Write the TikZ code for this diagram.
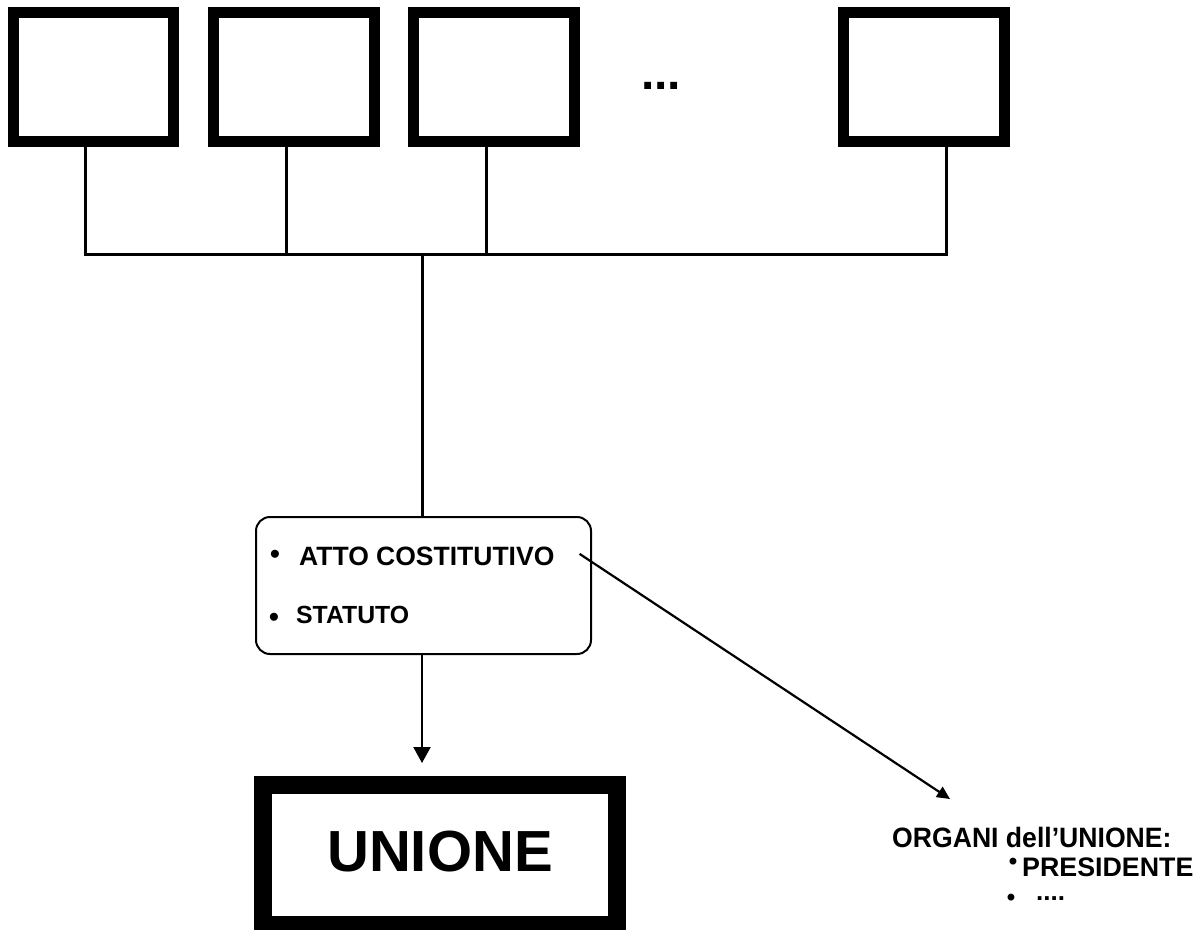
\documentclass[tikz,border=0pt]{standalone}
\usepackage{fontspec}
\setmainfont{Liberation Sans}
\usetikzlibrary{arrows.meta}
\begin{document}
\begin{tikzpicture}[x=1pt,y=-1pt,
  topbox/.style={draw,line width=11pt,inner sep=0pt,minimum width=160pt,minimum height=129pt},
  bigbox/.style={draw,line width=18pt,inner sep=0pt,minimum width=354pt,minimum height=140pt,text depth=7pt,
     font=\fontsize{58}{58}\selectfont\bfseries},
  docbox/.style={draw,line width=2pt,rounded corners=14pt,inner sep=0pt,minimum width=335pt,minimum height=137pt},
  wire/.style={line width=3pt},
  txt/.style={inner sep=0pt,anchor=base west,font=\bfseries},
  bul/.style={inner sep=0pt,anchor=base,font=\fontsize{28}{28}\selectfont\bfseries},
  arr/.style={line width=2.2pt,-{Triangle[length=16pt,width=17pt]}},
  arrd/.style={line width=2.2pt,-{Triangle[length=13pt,width=12pt]}}]
\useasboundingbox (0,0) rectangle (1198,929);
% top boxes
\node[topbox] (b1) at (93,77) {};
\node[topbox,minimum width=161pt] (b2) at (294,77) {};
\node[topbox,minimum width=161pt] (b3) at (494,77) {};
\node[topbox,minimum width=161pt] (b4) at (924,77) {};
\node[txt,font=\fontsize{48}{48}\selectfont\bfseries] (dots) at (641,89) {...};
% junctions
\coordinate (j1) at (85,254);
\coordinate (j2) at (286,254);
\coordinate (j3) at (486,254);
\coordinate (j4) at (946,254);
\coordinate (jm) at (422,254);
\draw[wire] (b1.south -| j1) -- (j1);
\draw[wire] (b2.south -| j2) -- (j2);
\draw[wire] (b3.south -| j3) -- (j3);
\draw[wire] (b4.south -| j4) -- (j4);
\draw[wire,line cap=rect] (j1) -- (j4);
% document box
\node[docbox] (doc) at (423.5,585.5) {};
\draw[wire] (jm) -- (doc.north -| jm);
\node[bul] (d1) at (275,563) {•};
\node[txt,font=\fontsize{26.5}{26.5}\selectfont\bfseries] (atto) at (299,565) {ATTO COSTITUTIVO};
\node[bul] (d2) at (274,626) {•};
\node[txt,font=\fontsize{24.8}{24.8}\selectfont\bfseries] (stat) at (296,623) {STATUTO};
% unione
\node[bigbox] (unione) at (440,855) {UNIONE};
\coordinate (tipv) at (422,763);
\draw[arr] (doc.south -| jm) -- (tipv);
% organi
\coordinate (tipd) at (950,799);
\draw[arrd] ([xshift=25pt,yshift=2pt]atto.east) -- (tipd);
\node[txt,font=\fontsize{28}{28}\selectfont\bfseries,xscale=0.95] (org) at (892,847) {ORGANI dell’UNIONE:};
\node[bul,font=\fontsize{24}{24}\selectfont\bfseries] (d3) at (1013,869) {•};
\node[txt,font=\fontsize{26.8}{26.8}\selectfont\bfseries] (pres) at (1022,876) {PRESIDENTE};
\node[bul,font=\fontsize{24}{24}\selectfont\bfseries] (d4) at (1011,905) {•};
\node[txt,font=\fontsize{26}{26}\selectfont\bfseries] (more) at (1036,900) {....};
\end{tikzpicture}
\end{document}
